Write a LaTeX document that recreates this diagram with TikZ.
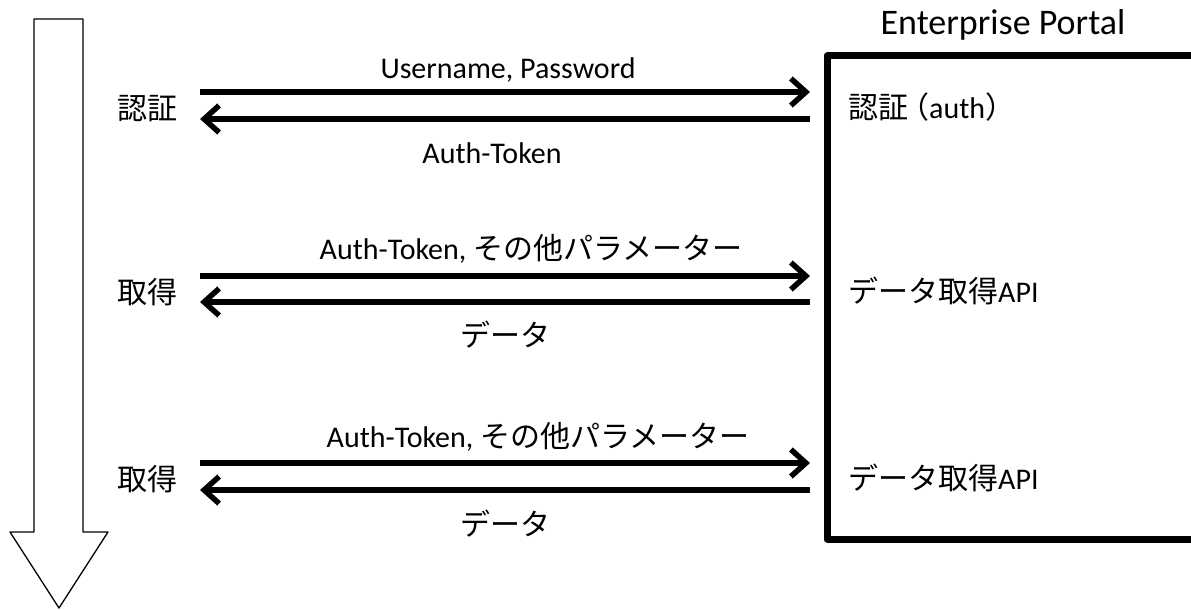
\documentclass[tikz,border=0pt]{standalone}
\usepackage{fontspec}
\setmainfont{Carlito}
\newfontfamily\jp{Noto Sans CJK JP}
\usetikzlibrary{arrows.meta}

\begin{document}
\begin{tikzpicture}[x=1pt,y=-1pt,line join=round,
    msg arrow/.style={draw,line width=5.5pt,-{Straight Barb[length=15pt,width=27pt]}},
    label node/.style={inner sep=0pt,anchor=base,font=\fontsize{30}{36}\selectfont},
    api node/.style={label node,anchor=base west}]
                \clip (0,0) rectangle (1191,610);
                % time arrow
                \draw[line width=1.3pt] (34,19) -- (83,19) -- (83,532) -- (108,532) -- (59,608) -- (10,532) -- (34,532) -- cycle;
                % portal
                \draw[line width=7pt] (1215,56) -- (827,56) -- (827,539) -- (1215,539);
                \node[label node,font=\fontsize{36}{42}\selectfont] (portal) at (1003,35) {Enterprise Portal};

                \node[label node] (auth) at (147,119) {\jp 認証};
                \node[label node] (get1) at (147,303) {\jp 取得};
                \node[label node] (get2) at (147,490) {\jp 取得};

                \node[api node] (api0) at (848,118) {{\jp 認証\kern-9pt（}auth{\jp ）}};
                \node[api node] (api1) at (848,302) {{\jp データ取得}API};
                \node[api node] (api2) at (848,489) {{\jp データ取得}API};

                \coordinate (a0) at (200,92);  \coordinate (b0) at (810,92);
                \coordinate (c0) at (810,119); \coordinate (d0) at (200,119);
                \coordinate (a1) at (200,276); \coordinate (b1) at (810,276);
                \coordinate (c1) at (810,302); \coordinate (d1) at (200,302);
                \coordinate (a2) at (200,463); \coordinate (b2) at (810,463);
                \coordinate (c2) at (810,490); \coordinate (d2) at (200,490);

                \path
                    (a0) edge[msg arrow] (b0)
                    (c0) edge[msg arrow] (d0)
                    (a1) edge[msg arrow] (b1)
                    (c1) edge[msg arrow] (d1)
                    (a2) edge[msg arrow] (b2)
                    (c2) edge[msg arrow] (d2)
                    ;

                \node[label node] (req0) at (508,78) {Username, Password};
                \node[label node] (res0) at (492,163) {Auth-Token};
                \node[label node] (req1) at (531,259) {Auth-Token, {\jp その他パラメーター}};
                \node[label node] (res1) at (505,346) {\jp データ};
                \node[label node] (req2) at (538,447) {Auth-Token, {\jp その他パラメーター}};
                \node[label node] (res2) at (505,535) {\jp データ};
\end{tikzpicture}
\end{document}
